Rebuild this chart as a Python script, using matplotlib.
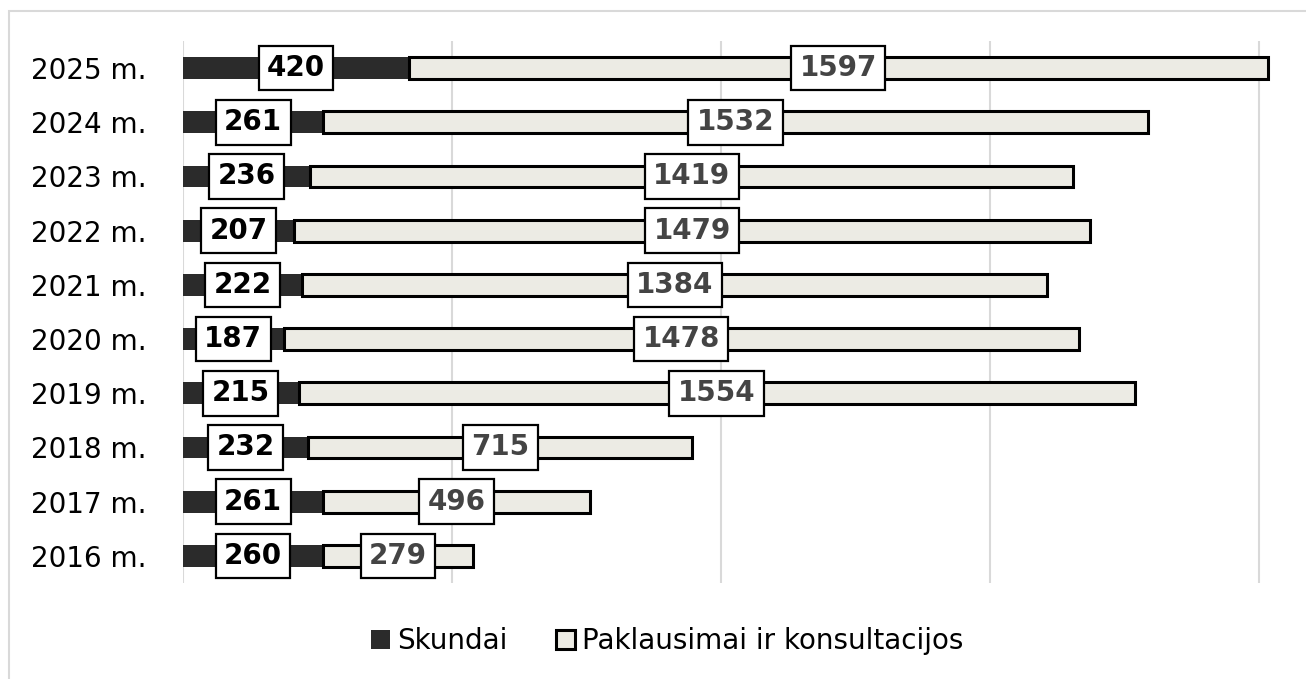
import matplotlib.pyplot as plt
from matplotlib.patches import Rectangle

# Data
years = ['2016 m.', '2017 m.', '2018 m.', '2019 m.', '2020 m.',
         '2021 m.', '2022 m.', '2023 m.', '2024 m.', '2025 m.']
skundai = [260, 261, 232, 215, 187, 222, 207, 236, 261, 420]
paklausimai = [279, 496, 715, 1554, 1478, 1384, 1479, 1419, 1532, 1597]

DARK = '#2b2b2b'
LIGHT = '#ecebe4'

fig = plt.figure(figsize=(13.06, 6.79), dpi=100)
ax = fig.add_axes([183 / 1306, 1 - 583 / 679, (1275 - 183) / 1306, (583 - 41) / 679])

# light grey frame around the chart
fig.patches.append(Rectangle((9 / 1306, -0.05), 1.1, 1 - 11 / 679 + 0.05,
                             transform=fig.transFigure, fill=False,
                             edgecolor='#d9d9d9', linewidth=1.5))

y = list(range(len(years)))
h = 0.4

ax.barh(y, skundai, height=h, color=DARK, zorder=2, label='Skundai')
ax.barh(y, paklausimai, left=skundai, height=h, color=LIGHT, edgecolor='black',
        linewidth=2.2, zorder=3, label='Paklausimai ir konsultacijos')

# value labels in white boxes
box = dict(boxstyle='square,pad=0.3', facecolor='white', edgecolor='black', linewidth=1.6)
for i in y:
    ax.text(skundai[i] / 2, i, str(skundai[i]), ha='center', va='center',
            fontsize=20, fontweight='bold', color='black', zorder=5, bbox=box)
    ax.text(skundai[i] + paklausimai[i] / 2, i, str(paklausimai[i]), ha='center',
            va='center', fontsize=20, fontweight='bold', color='#444444', zorder=5,
            bbox=box)

ax.set_xlim(0, 2030)
ax.set_ylim(-0.5, 9.5)
ax.set_xticks([0, 500, 1000, 1500, 2000])
ax.set_xticklabels([])
ax.tick_params(axis='x', length=0)
ax.tick_params(axis='y', length=0, pad=26, labelsize=20)
ax.set_yticks(y)
ax.set_yticklabels(years)
ax.grid(axis='x', color='#d9d9d9', linewidth=1.5, zorder=0)
ax.set_axisbelow(True)
for s in ax.spines.values():
    s.set_visible(False)

leg = fig.legend(loc='center', bbox_to_anchor=(667 / 1306, 1 - 641 / 679), ncol=2,
                 frameon=False, fontsize=20,
                 handlelength=0.68, handleheight=0.68, handletextpad=0.25,
                 columnspacing=1.75)

fig.savefig('out.png', dpi=100)
